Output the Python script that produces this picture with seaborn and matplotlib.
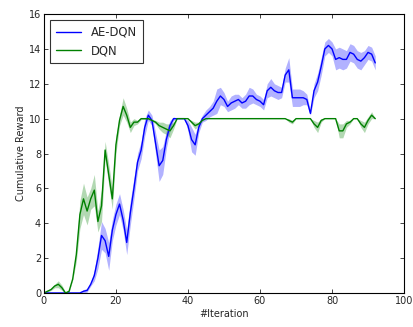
import numpy as np
import pandas as pd
import matplotlib
matplotlib.use("Agg")
import matplotlib.pyplot as plt
import seaborn as sns

# iterations 0..92
iterations = list(range(93))

ae_dqn = [0, 0, 0, 0, 0, 0, 0, 0, 0, 0,
          0, 0.1, 0.15, 0.5, 1.0, 2.0, 3.3, 3.0, 2.1, 3.6,
          4.5, 5.1, 4.2, 2.9, 4.6, 6.0, 7.5, 8.2, 9.5, 10.2,
          9.9, 8.6, 7.3, 7.6, 8.8, 9.6, 10.0, 10.0, 10.0, 10.0,
          9.6, 8.8, 8.5, 9.5, 10.0, 10.2, 10.4, 10.6, 11.0, 11.3,
          11.1, 10.7, 10.9, 11.0, 11.1, 10.9, 11.0, 11.3, 11.3, 11.1,
          11.0, 10.8, 11.6, 11.8, 11.6, 11.5, 11.5, 12.5, 12.8, 11.2,
          11.2, 11.2, 11.2, 11.1, 10.3, 11.6, 12.1, 13.0, 14.0, 14.2,
          14.0, 13.4, 13.5, 13.4, 13.4, 13.8, 13.7, 13.4, 13.3, 13.5,
          13.8, 13.7, 13.2]

ae_dqn_spread = [0, 0, 0, 0, 0, 0, 0, 0, 0, 0,
                 0, 0.1, 0.1, 0.1, 0.3, 0.6, 0.8, 0.7, 0.8, 0.6,
                 0.6, 0.6, 0.6, 0.7, 0.7, 0.6, 0.5, 0.5, 0.5, 0.3,
                 0.3, 0.6, 0.9, 0.8, 0.5, 0.3, 0.1, 0, 0, 0,
                 0.3, 0.7, 0.6, 0.3, 0.2, 0.3, 0.3, 0.4, 0.7, 0.5,
                 0.4, 0.3, 0.4, 0.4, 0.3, 0.3, 0.4, 0.5, 0.4, 0.3,
                 0.3, 0.3, 0.4, 0.5, 0.4, 0.4, 0.3, 0.4, 0.7, 0.5,
                 0.5, 0.5, 0.4, 0.3, 0.1, 0.4, 0.5, 0.5, 0.4, 0.4,
                 0.4, 0.6, 0.6, 0.6, 0.5, 0.5, 0.5, 0.5, 0.5, 0.4,
                 0.4, 0.4, 0.4]

dqn = [0, 0.1, 0.2, 0.4, 0.5, 0.3, 0, 0.1, 0.8, 2.2,
       4.5, 5.4, 4.7, 5.4, 5.9, 4.1, 5.0, 8.2, 6.8, 5.4,
       8.5, 9.9, 10.7, 10.2, 9.5, 9.8, 9.8, 10.0, 10.0, 10.0,
       9.9, 9.8, 9.6, 9.5, 9.4, 9.3, 9.6, 10.0, 10.0, 10.0,
       10.0, 9.8, 9.6, 9.7, 9.9, 10.0, 10.0, 10.0, 10.0, 10.0,
       10.0, 10.0, 10.0, 10.0, 10.0, 10.0, 10.0, 10.0, 10.0, 10.0,
       10.0, 10.0, 10.0, 10.0, 10.0, 10.0, 10.0, 10.0, 9.9, 9.8,
       10.0, 10.0, 10.0, 10.0, 10.0, 9.7, 9.5, 9.9, 10.0, 10.0,
       10.0, 10.0, 9.3, 9.3, 9.7, 9.8, 10.0, 10.0, 9.7, 9.5,
       9.9, 10.2, 10.0]

dqn_spread = [0.05, 0.05, 0.05, 0.1, 0.2, 0.15, 0.05, 0.05, 0.05, 0.4,
              0.8, 0.9, 0.8, 0.6, 0.9, 0.6, 0.9, 0.5, 0.6, 0.6,
              0.5, 0.3, 0.5, 0.4, 0.3, 0.2, 0.1, 0.05, 0.05, 0.05,
              0.05, 0.1, 0.2, 0.3, 0.3, 0.4, 0.2, 0, 0, 0,
              0, 0.1, 0.2, 0.1, 0, 0, 0, 0, 0, 0,
              0, 0, 0, 0, 0, 0, 0, 0, 0, 0,
              0, 0, 0, 0, 0, 0, 0, 0, 0.1, 0.1,
              0, 0, 0, 0, 0, 0.2, 0.3, 0.1, 0, 0,
              0, 0, 0.4, 0.4, 0.2, 0.1, 0, 0, 0.2, 0.3,
              0.2, 0.2, 0]

sns.set_style("ticks")
plt.rcParams["font.family"] = ["DejaVu Sans"]
plt.rcParams["xtick.direction"] = "in"
plt.rcParams["ytick.direction"] = "in"

df = pd.DataFrame({"iter": iterations, "AE-DQN": ae_dqn, "DQN": dqn})

fig = plt.figure(figsize=(4.14, 3.27), dpi=100)
ax = fig.add_axes([0.106, 0.104, 0.87, 0.853])

blue = (0, 0, 1)
green = (0, 0.5, 0)

lo = np.array(ae_dqn) - np.array(ae_dqn_spread)
hi = np.array(ae_dqn) + np.array(ae_dqn_spread)
ax.fill_between(iterations, lo, hi, color=blue, alpha=0.3, lw=0)
lo = np.array(dqn) - np.array(dqn_spread)
hi = np.array(dqn) + np.array(dqn_spread)
ax.fill_between(iterations, lo, hi, color=green, alpha=0.3, lw=0)

sns.lineplot(data=df, x="iter", y="AE-DQN", color=blue, lw=1, label="AE-DQN", ax=ax)
sns.lineplot(data=df, x="iter", y="DQN", color=green, lw=1, label="DQN", ax=ax)

ax.set_xlim(0, 100)
ax.set_ylim(0, 16)
ax.set_xticks(range(0, 101, 20))
ax.set_yticks(range(0, 17, 2))
ax.tick_params(labelsize=7, length=3, width=0.6, top=True, right=True, pad=2)
for s in ax.spines.values():
    s.set_linewidth(0.8)
    s.set_color("black")
ax.set_xlabel("#Iteration", fontsize=7, labelpad=2)
ax.set_ylabel("Cumulative Reward", fontsize=7, labelpad=2)

leg = ax.legend(loc="upper left", fontsize=8.4, fancybox=False, frameon=True,
                handlelength=2.2, borderpad=0.5, labelspacing=0.5)
leg.get_frame().set_edgecolor("black")
leg.get_frame().set_linewidth(0.8)

fig.savefig("out.png", dpi=100)
